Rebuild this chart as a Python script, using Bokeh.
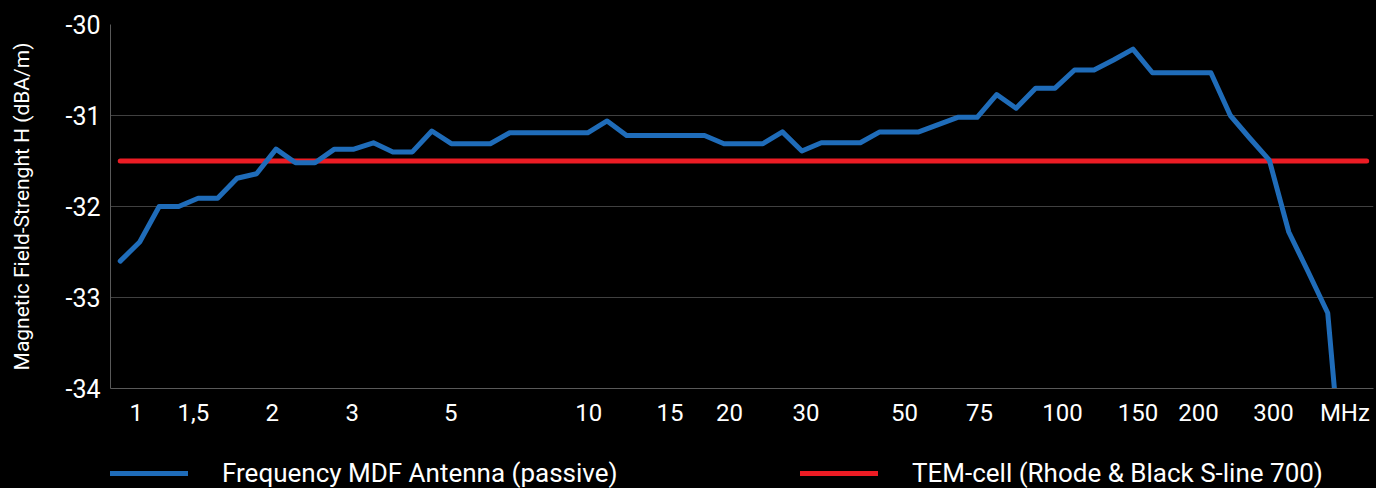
from bokeh.plotting import figure
from bokeh.layouts import column
from bokeh.models import Range1d, FixedTicker, Legend, LegendItem
from bokeh.embed import file_html
from bokeh.resources import INLINE

# ---- data ----
mdf_values = [
    -32.60, -32.39, -32.00, -32.00, -31.91, -31.91, -31.69, -31.64, -31.37, -31.52,
    -31.52, -31.37, -31.37, -31.30, -31.40, -31.40, -31.17, -31.31, -31.31, -31.31,
    -31.19, -31.19, -31.19, -31.19, -31.19, -31.06, -31.22, -31.22, -31.22, -31.22,
    -31.22, -31.31, -31.31, -31.31, -31.18, -31.39, -31.30, -31.30, -31.30, -31.18,
    -31.18, -31.18, -31.10, -31.02, -31.02, -30.77, -30.92, -30.70, -30.70, -30.50,
    -30.50, -30.39, -30.27, -30.53, -30.53, -30.53, -30.53, -31.00, -31.25, -31.49,
    -32.28, -32.72, -33.17, -35.60,
]
mdf_index = list(range(len(mdf_values)))

tem_index = [0, 64]
tem_values = [-31.5, -31.5]

x_labels = ["1", "1,5", "2", "3", "5", "10", "15", "20", "30", "50",
            "75", "100", "150", "200", "300", "MHz"]
x_label_pos = [0.82, 3.75, 7.81, 11.91, 16.97, 24.06, 28.23, 31.28, 35.21, 40.27,
               44.12, 48.38, 52.26, 55.36, 59.22, 62.88]
y_ticks = [-34, -33, -32, -31, -30]
y_labels = ["-34", "-33", "-32", "-31", "-30"]

series_names = ["Frequency MDF Antenna (passive)", "TEM-cell (Rhode & Black S-line 700)"]

FONT = "Roboto"
BLUE = "#1f6cb9"
RED = "#ec1c24"
NAN = float("nan")

p = figure(width=1376, height=440, output_backend="svg", toolbar_location=None,
           x_range=Range1d(-0.5, 64.35), y_range=Range1d(-34, -30),
           min_border_left=110, min_border_right=3, min_border_top=24,
           min_border_bottom=52,
           background_fill_color="black", border_fill_color="black",
           outline_line_color=None)

p.line(tem_index, tem_values, line_color=RED, line_width=5, line_cap="round")
p.line(mdf_index, mdf_values, line_color=BLUE, line_width=5,
       line_cap="round", line_join="round")

# y axis
p.yaxis.ticker = FixedTicker(ticks=y_ticks)
p.yaxis.major_label_overrides = {t: lab for t, lab in zip(y_ticks, y_labels)}
p.yaxis.axis_label = "Magnetic Field-Strenght H (dBA/m)"
p.yaxis.axis_label_text_font = FONT
p.yaxis.axis_label_text_font_size = "21px"
p.yaxis.axis_label_text_font_style = "normal"
p.yaxis.axis_label_text_color = "white"
p.yaxis.axis_label_standoff = 28
p.yaxis.major_label_text_font = FONT
p.yaxis.major_label_text_font_size = "25px"
p.yaxis.major_label_text_color = "white"
p.yaxis.major_label_standoff = 10

# x axis
p.xaxis.ticker = FixedTicker(ticks=x_label_pos)
p.xaxis.major_label_overrides = {pos: lab for pos, lab in zip(x_label_pos, x_labels)}
p.xaxis.major_label_text_font = FONT
p.xaxis.major_label_text_font_size = "24px"
p.xaxis.major_label_text_color = "white"
p.xaxis.major_label_standoff = 10

for ax in (p.xaxis, p.yaxis):
    ax.axis_line_color = "#595959"
    ax.axis_line_width = 1
    ax.major_tick_line_color = None
    ax.minor_tick_line_color = None
    ax.major_tick_out = 0
    ax.major_tick_in = 0
    ax.minor_tick_out = 0
    ax.minor_tick_in = 0

p.xgrid.grid_line_color = None
p.ygrid.grid_line_color = "#404040"
p.ygrid.grid_line_width = 1

# ---- legend strip below the chart (its frame is aligned with the chart's frame) ----
lg = figure(width=1376, height=48, output_backend="svg", toolbar_location=None,
            x_axis_type=None, y_axis_type=None,
            x_range=Range1d(0, 1), y_range=Range1d(0, 1),
            min_border=0, min_border_left=0, min_border_right=0,
            min_border_top=0, min_border_bottom=0,
            background_fill_color="black", border_fill_color="black",
            outline_line_color=None)
lg.grid.visible = False
# legend-key renderers (no visible data of their own)
key_blue = lg.line(x=[NAN], y=[NAN], line_color=BLUE, line_width=5, line_cap="round")
key_red = lg.line(x=[NAN], y=[NAN], line_color=RED, line_width=5, line_cap="round")

legend = Legend(
    items=[LegendItem(label=series_names[0], renderers=[key_blue]),
           LegendItem(label=series_names[1], renderers=[key_red])],
    orientation="horizontal", location=(0, 0),
    glyph_width=78, glyph_height=28, label_height=28, label_width=412,
    label_standoff=34, spacing=166, padding=0, margin=0,
    background_fill_alpha=0, border_line_color=None,
    label_text_color="white", label_text_font=FONT, label_text_font_size="26px",
)
lg.add_layout(legend)

page = column(p, lg, spacing=0)

html = file_html(page, INLINE)
html = html.replace("</head>", "<style>html,body{background:#000000;}</style></head>", 1)
open("out.html", "w").write(html)
